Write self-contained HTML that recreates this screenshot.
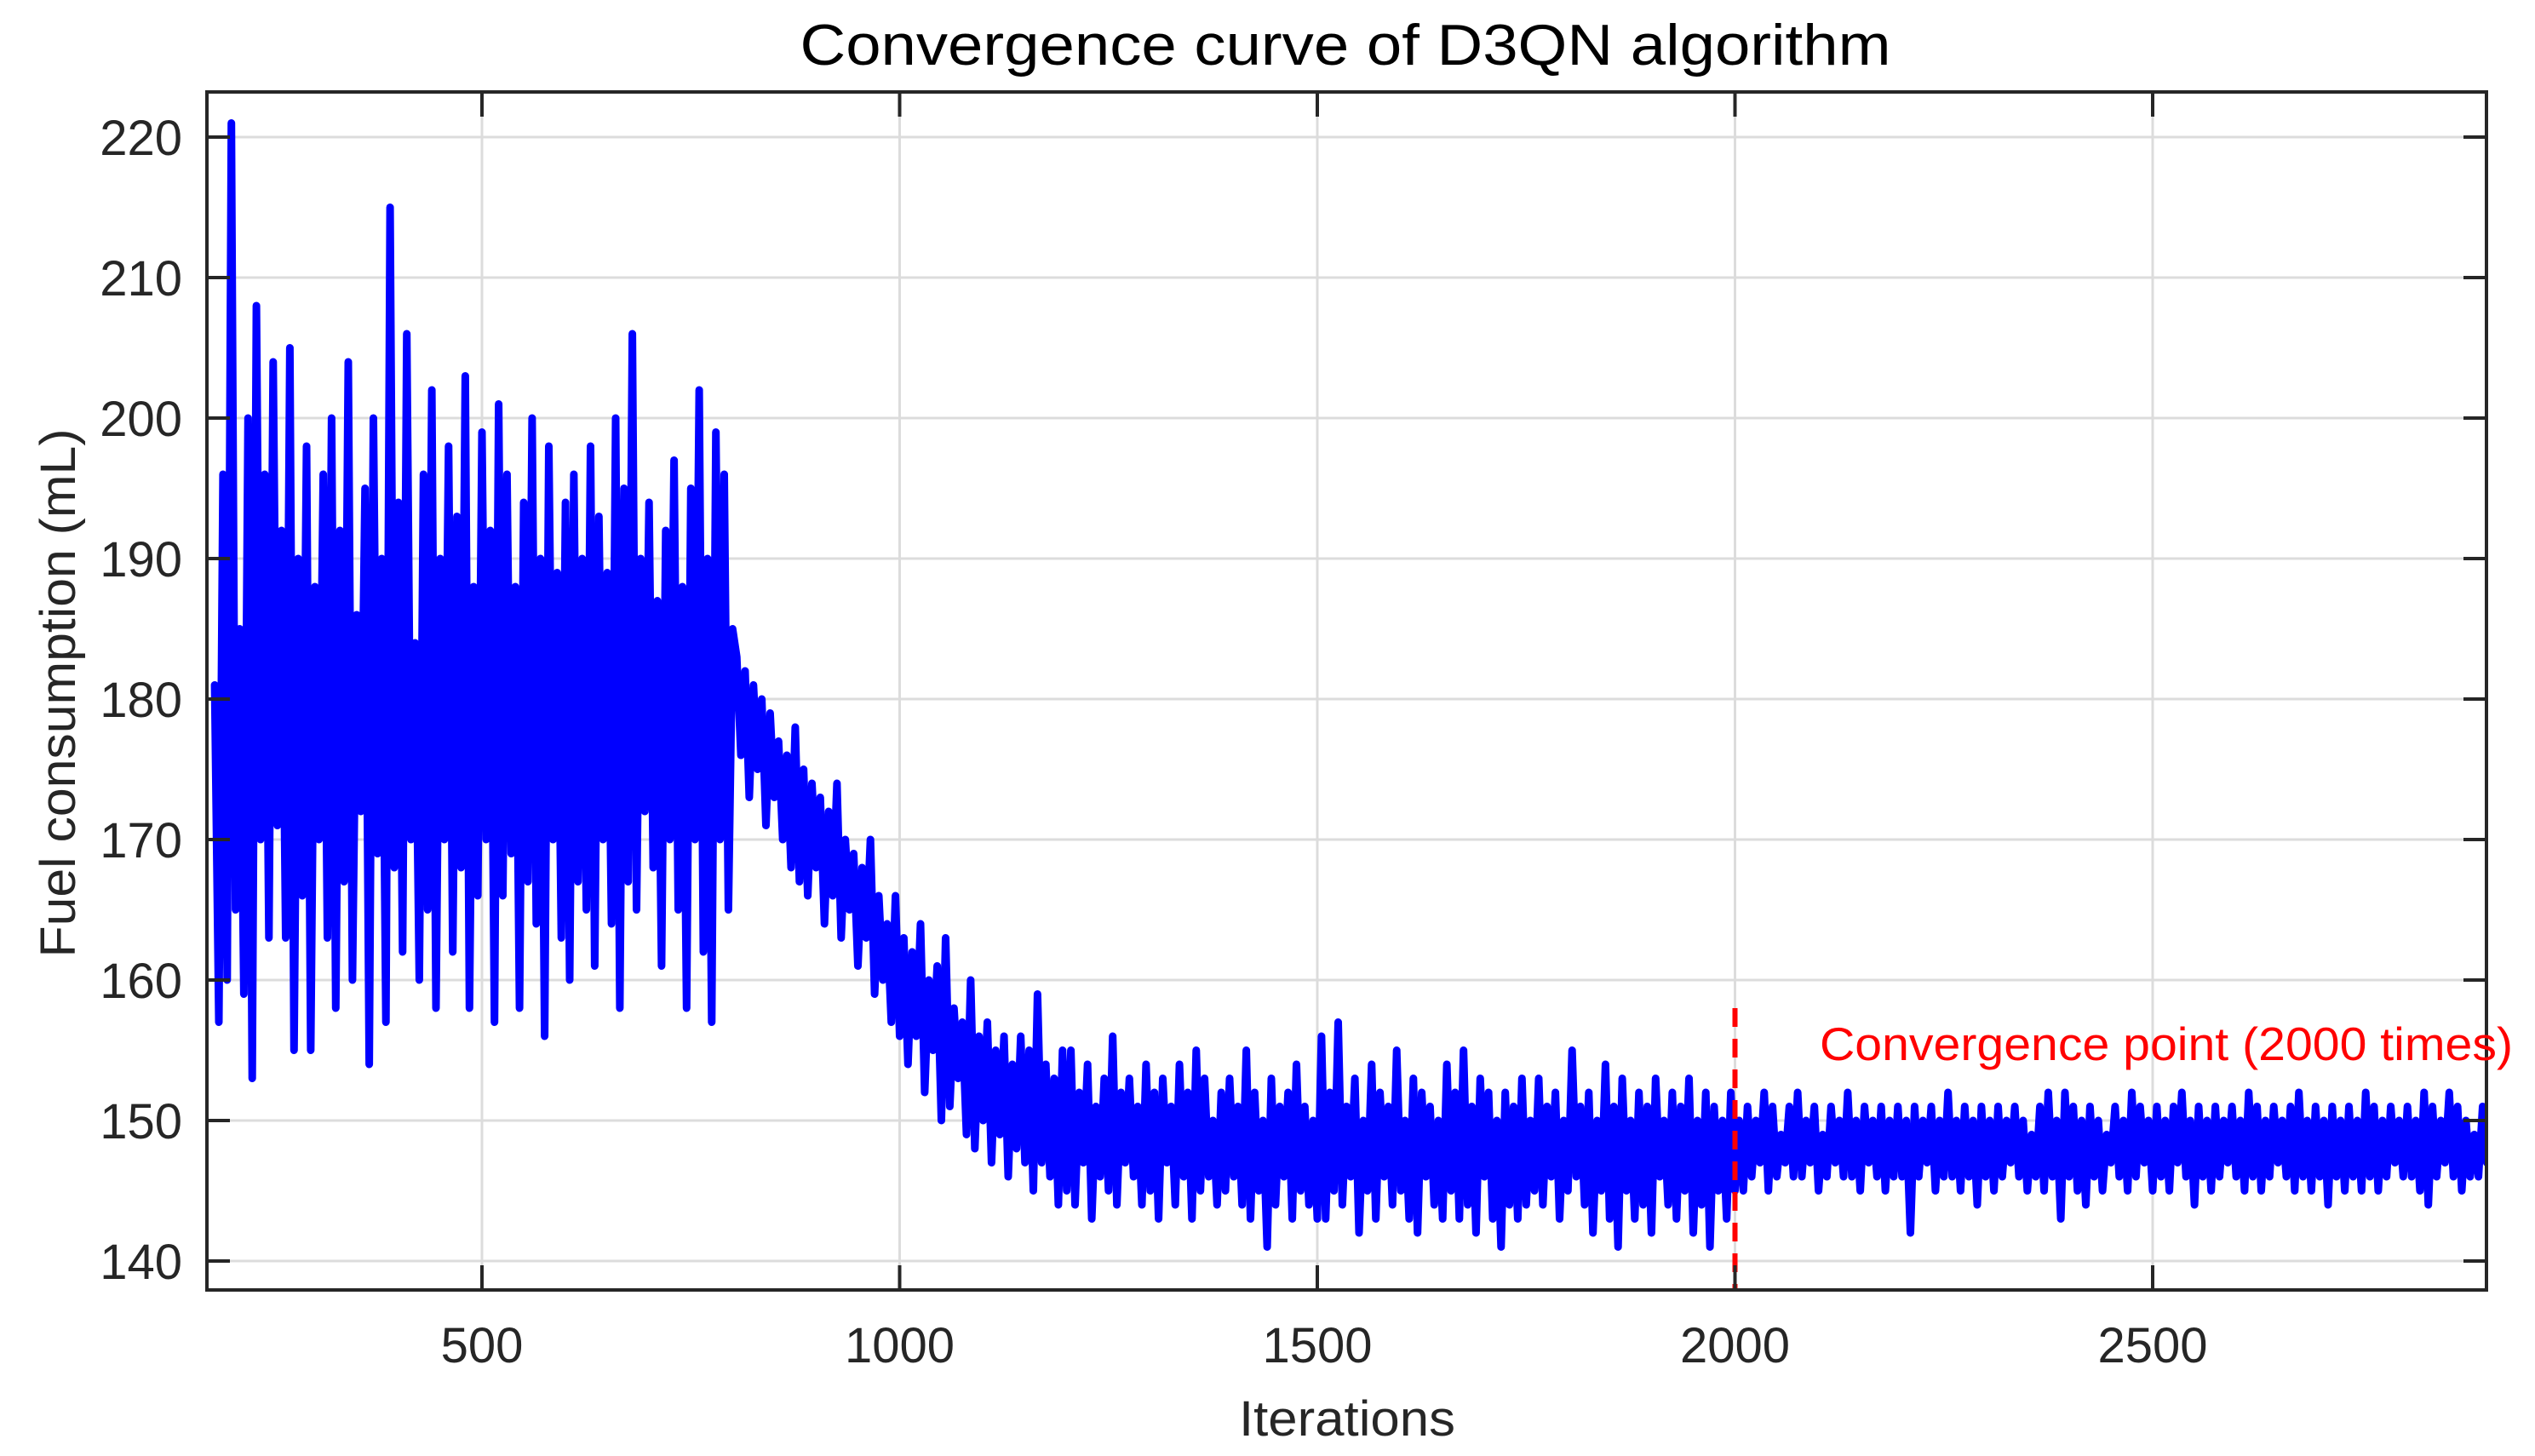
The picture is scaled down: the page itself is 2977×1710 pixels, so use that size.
<!DOCTYPE html>
<html><head><meta charset="utf-8"><style>
html,body{margin:0;padding:0;background:#fff;}
svg{display:block;}
</style></head><body>
<svg id="chart" width="2977" height="1710" viewBox="0 0 2977 1710" xmlns="http://www.w3.org/2000/svg">
<rect x="0" y="0" width="2977" height="1710" fill="#fff"/>
<defs><clipPath id="plotclip"><rect x="243" y="108" width="2677" height="1407"/></clipPath></defs>
<g id="grid"></g>
<g id="series" clip-path="url(#plotclip)"></g>
<g id="axes"></g>
<text x="1580" y="76" text-anchor="middle" font-family="Liberation Sans, sans-serif" font-size="68" fill="#000" textLength="1281" lengthAdjust="spacingAndGlyphs">Convergence curve of D3QN algorithm</text>
<text x="1582" y="1686" text-anchor="middle" font-family="Liberation Sans, sans-serif" font-size="58" fill="#262626" textLength="254" lengthAdjust="spacingAndGlyphs">Iterations</text>
<text x="0" y="0" transform="translate(88,814) rotate(-90)" text-anchor="middle" font-family="Liberation Sans, sans-serif" font-size="58" fill="#262626" textLength="621" lengthAdjust="spacingAndGlyphs">Fuel consumption (mL)</text>
<text x="2137" y="1245" font-family="Liberation Sans, sans-serif" font-size="55" fill="#ff0000" textLength="814" lengthAdjust="spacingAndGlyphs">Convergence point (2000 times)</text>
</svg>
<script>
const xTicks = [500, 1000, 1500, 2000, 2500];
const yTicks = [140, 150, 160, 170, 180, 190, 200, 210, 220];
const startIteration = 180;
const iterationStep = 5;
const convergenceIteration = 2000;
const convergenceLineTop = 158;
const fuel = [
181,157,196,160,221,165,185,159,200,153,
208,170,196,163,204,171,192,163,205,155,
190,166,198,155,188,170,196,163,200,158,
192,167,204,160,186,172,195,154,200,169,
190,157,215,168,194,162,206,170,184,160,
196,165,202,158,190,170,198,162,193,168,
203,158,188,166,199,170,192,157,201,166,
196,169,188,158,194,167,200,164,190,156,
198,170,189,163,194,160,196,167,190,165,
198,161,193,170,189,164,200,158,195,167,
206,165,190,172,194,168,187,161,192,170,
197,165,188,158,195,170,202,162,190,157,
199,170,196,165,185,
183,176,182,173,181,175,180,171,179,173,
177,170,176,168,178,167,175,166,174,168,
173,164,172,166,174,163,170,165,169,161,
168,163,170,159,166,160,164,157,166,156,
163,154,162,156,164,152,160,155,161,150,
163,151,158,153,157,149,160,148,156,150,
157,147,155,149,156,146,154,148,156,147,
155,145,159,147,154,146,153,144,155,145,
155,144,152,147,154,143,151,146,153,145,
156,144,152,147,153,146,151,144,154,145,
152,143,153,147,151,144,154,146,152,143,
155,145,153,146,150,144,152,145,153,146,
151,144,155,143,152,145,150,141,153,144,
151,146,152,143,154,145,151,144,150,143,
156,143,152,145,157,144,151,146,153,142,
150,145,154,143,152,146,151,144,155,145,
150,143,153,142,152,146,151,144,150,143,
154,145,152,143,155,144,151,142,153,146,
152,143,150,141,152,144,151,143,153,144,
150,145,153,144,151,146,152,143,150,145,
155,146,151,144,152,142,150,145,154,143,
151,141,153,145,150,143,152,144,151,142,
153,146,150,144,152,143,151,145,153,142,
150,144,152,141,151,145,150,143,152,145,
150,145,151,146,150,147,152,145,151,146,
149,147,151,146,152,146,150,147,151,145,
149,146,151,147,150,146,152,146,150,145,
151,147,150,146,151,145,150,146,151,146,
150,142,151,146,150,147,151,145,150,146,
152,146,150,145,151,146,150,144,151,146,
150,145,151,146,150,147,151,146,150,145,
149,146,151,145,152,146,150,143,152,146,
151,145,150,144,151,146,150,145,149,147,
151,146,150,145,152,146,151,147,150,145,
151,146,150,145,151,147,152,146,150,144,
151,146,150,145,151,146,150,147,151,146,
150,145,152,146,151,145,150,146,151,147,
150,146,151,145,152,146,150,145,151,146,
150,144,151,146,150,145,151,146,150,145,
152,146,151,145,150,146,151,147,150,146,
151,146,150,145,152,144,151,146,150,147,
152,146,151,145,150,146,149,146,151,147
];
const NS = 'http://www.w3.org/2000/svg';
const L = 243, R = 2920, T = 108, B = 1515;
function xs(v){ return 566 + (v - 500) * 0.981; }
function ys(v){ return 161 + (220 - v) * 16.5; }
function mk(tag, attrs, parent){
  const e = document.createElementNS(NS, tag);
  for (const k in attrs) e.setAttribute(k, attrs[k]);
  parent.appendChild(e);
  return e;
}
const grid = document.getElementById('grid');
const axes = document.getElementById('axes');
const series = document.getElementById('series');
xTicks.forEach(t => {
  const g = mk('line', {x1: xs(t), x2: xs(t), y1: T, y2: B, stroke: '#dcdcdc', 'stroke-width': 3}, grid);
  
  
  const tk = mk('line', {x1: xs(t), x2: xs(t), y1: B, y2: B - 29, stroke: '#262626', 'stroke-width': 4}, axes);
  
  
  const tk2 = mk('line', {x1: xs(t), x2: xs(t), y1: T, y2: T + 29, stroke: '#262626', 'stroke-width': 4}, axes);
  
  
  const lb = mk('text', {x: xs(t), y: 1600, 'text-anchor': 'middle', 'font-family': 'Liberation Sans, sans-serif', 'font-size': 58, fill: '#262626'}, axes);
  lb.textContent = t;
  
  
});
yTicks.forEach(t => {
  const g = mk('line', {x1: L, x2: R, y1: ys(t), y2: ys(t), stroke: '#dcdcdc', 'stroke-width': 3}, grid);
  
  
  const tk = mk('line', {x1: L, x2: L + 27, y1: ys(t), y2: ys(t), stroke: '#262626', 'stroke-width': 4}, axes);
  
  
  const tk2 = mk('line', {x1: R, x2: R - 27, y1: ys(t), y2: ys(t), stroke: '#262626', 'stroke-width': 4}, axes);
  
  
  const lb = mk('text', {x: 214, y: ys(t) + 21, 'text-anchor': 'end', 'font-family': 'Liberation Sans, sans-serif', 'font-size': 58, fill: '#262626'}, axes);
  lb.textContent = t;
  
  
});
let d = '';
fuel.forEach((v, i) => {
  const it = startIteration + i * iterationStep;
  d += (i ? 'L' : 'M') + xs(it).toFixed(1) + ' ' + ys(v).toFixed(1) + ' ';
});
const path = mk('path', {d: d, fill: 'none', stroke: '#0000ff', 'stroke-width': 9, 'stroke-linejoin': 'round', 'stroke-linecap': 'round'}, series);


const cl = mk('line', {x1: xs(convergenceIteration), x2: xs(convergenceIteration), y1: ys(convergenceLineTop), y2: B, stroke: '#ff0000', 'stroke-width': 6, 'stroke-dasharray': '22 14'}, series);


const box = mk('rect', {x: L, y: T, width: R - L, height: B - T, fill: 'none', stroke: '#262626', 'stroke-width': 4}, axes);


</script>
</body></html>
